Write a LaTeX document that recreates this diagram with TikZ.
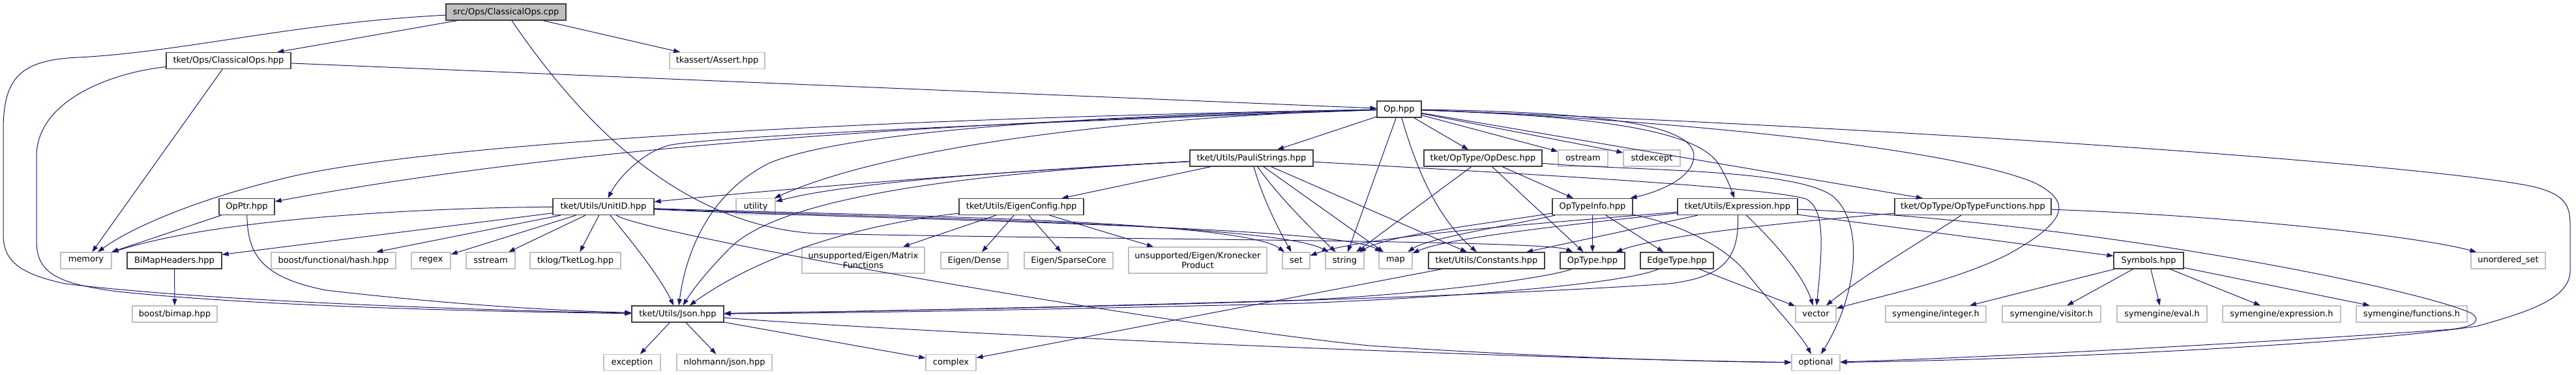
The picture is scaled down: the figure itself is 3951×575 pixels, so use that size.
\documentclass[tikz,border=0pt]{standalone}
\usepackage{fontspec}
\setmainfont{DejaVu Sans}
\usetikzlibrary{arrows.meta}
\definecolor{edgeblue}{HTML}{191970}
\definecolor{boxborder}{HTML}{404040}
\definecolor{extborder}{HTML}{BFBFBF}
\definecolor{rootfill}{HTML}{BFBFBF}
\tikzset{
  base/.style={rectangle, inner sep=0pt, minimum height=25pt, font=\fontsize{13}{15.6}\selectfont, align=center, fill=white},
  box/.style={base, draw=boxborder, line width=1.2pt},
  ext/.style={base, draw=extborder, line width=1.2pt},
  root/.style={base, draw=boxborder, fill=rootfill, line width=1.2pt},
  W/.style={minimum width=#1pt},
  edge/.style={draw=edgeblue, line width=1pt, -{Triangle[length=10pt,width=7pt]}}
}
\begin{document}
\begin{tikzpicture}[x=1pt,y=-1pt]
\useasboundingbox (0,0) rectangle (3951,575);
% row 0
\node[root,W=184] (cpp) at (776,18.5) {src/Ops/ClassicalOps.cpp};
% row 1
\node[box,W=191] (cls) at (350.5,93) {tket/Ops/ClassicalOps.hpp};
\node[ext,W=146] (assert) at (1100,93) {tkassert/Assert.hpp};
% row 2
\node[box,W=68] (op) at (2146,167.5) {Op.hpp};
% row 3
\node[box,W=189] (pauli) at (1919.5,242.5) {tket/Utils/PauliStrings.hpp};
\node[box,W=181] (opdesc) at (2274.5,242.5) {tket/OpType/OpDesc.hpp};
\node[ext,W=76] (ostream) at (2428,242.5) {ostream};
\node[ext,W=87] (stdexcept) at (2533.5,242.5) {stdexcept};
% row 4
\node[box,W=85] (opptr) at (378.5,317) {OpPtr.hpp};
\node[box,W=155] (unitid) at (925.5,317) {tket/Utils/UnitID.hpp};
\node[ext,W=60] (utility) at (1159,317) {utility};
\node[box,W=191] (eigen) at (1566.5,317) {tket/Utils/EigenConfig.hpp};
\node[box,W=123] (optypeinfo) at (2442.5,317) {OpTypeInfo.hpp};
\node[box,W=184] (expression) at (2665,317) {tket/Utils/Expression.hpp};
\node[box,W=240] (optypefun) at (3026,317) {tket/OpType/OpTypeFunctions.hpp};
% row 5
\node[ext,W=78] (memory) at (132,399.5) {memory};
\node[box,W=145] (bimaph) at (267.5,399.5) {BiMapHeaders.hpp};
\node[ext,W=191] (hash) at (511.5,399.5) {boost/functional/hash.hpp};
\node[ext,W=60] (regex) at (661,399.5) {regex};
\node[ext,W=75] (sstream) at (752.5,399.5) {sstream};
\node[ext,W=139] (tklog) at (882.5,399.5) {tklog/TketLog.hpp};
\node[ext,W=188,minimum height=40pt] (matfun) at (1324,399) {unsupported/Eigen/Matrix\\Functions};
\node[ext,W=103] (dense) at (1494.5,399.5) {Eigen/Dense};
\node[ext,W=136] (sparse) at (1639,399.5) {Eigen/SparseCore};
\node[ext,W=212,minimum height=40pt] (kron) at (1837,399) {unsupported/Eigen/Kronecker\\Product};
\node[ext,W=42] (set) at (1988,399.5) {set};
\node[ext,W=59] (string) at (2062.5,399.5) {string};
\node[ext,W=51] (map) at (2140.5,399.5) {map};
\node[box,W=178] (constants) at (2280,399.5) {tket/Utils/Constants.hpp};
\node[box,W=99] (optype) at (2442.5,399.5) {OpType.hpp};
\node[box,W=112] (edgetype) at (2572,399.5) {EdgeType.hpp};
\node[box,W=107] (symbols) at (3295.5,399.5) {Symbols.hpp};
\node[ext,W=114] (uset) at (3847,399.5) {unordered\_set};
% row 6
\node[ext,W=130] (bimap) at (268,481.5) {boost/bimap.hpp};
\node[box,W=141] (json) at (1039.5,481.5) {tket/Utils/Json.hpp};
\node[ext,W=62] (vector) at (2785,481.5) {vector};
\node[ext,W=154] (integer) at (2969,481.5) {symengine/integer.h};
\node[ext,W=151] (visitor) at (3146.5,481.5) {symengine/visitor.h};
\node[ext,W=138] (eval) at (3316,481.5) {symengine/eval.h};
\node[ext,W=181] (sexpr) at (3499.5,481.5) {symengine/expression.h};
\node[ext,W=170] (functions) at (3699,481.5) {symengine/functions.h};
% row 7
\node[ext,W=87] (exception) at (969.5,556) {exception};
\node[ext,W=146] (nlohmann) at (1111,556) {nlohmann/json.hpp};
\node[ext,W=77] (complex) at (1458.5,556) {complex};
\node[ext,W=74] (optional) at (2785,556) {optional};

% ---- edges: cpp
\draw[edge] (cpp) -- (cls);
\draw[edge] (cpp) -- (assert);
\draw[edge] (cpp) .. controls (900,200) and (1050,345) .. (1250,358) .. controls (1700,368) and (2370,368) .. (optype);
\draw[edge] (cpp) .. controls (450,35) and (280,80) .. (120,88) .. controls (30,92) and (5,120) .. (5,200) -- (5,360) .. controls (5,400) and (30,420) .. (100,435) .. controls (300,460) and (700,475) .. (json);
% cls
\draw[edge] (cls) -- (op);
\draw[edge] (cls) -- (memory);
\draw[edge] (cls) .. controls (180,110) and (56,150) .. (56,240) -- (56,370) .. controls (56,420) and (90,435) .. (180,447) .. controls (400,470) and (750,478) .. (json);
% op
\draw[edge] (op) .. controls (1400,180) and (700,215) .. (450,270) .. controls (300,305) and (200,350) .. (memory);
\draw[edge] (op) .. controls (1500,185) and (900,220) .. (opptr);
\draw[edge] (op) .. controls (1500,190) and (1100,210) .. (1030,222) .. controls (990,230) and (950,270) .. (unitid);
\draw[edge] (op) .. controls (1700,175) and (1300,200) .. (1180,250) .. controls (1080,300) and (1050,400) .. (json);
\draw[edge] (op) .. controls (1700,180) and (1350,230) .. (utility);
\draw[edge] (op) -- (pauli);
\draw[edge] (op) -- (string);
\draw[edge] (op) .. controls (2170,250) and (2200,330) .. (constants);
\draw[edge] (op) -- (opdesc);
\draw[edge] (op) -- (ostream);
\draw[edge] (op) -- (stdexcept);
\draw[edge] (op) .. controls (2450,172) and (2600,190) .. (2598,240) .. controls (2596,275) and (2540,295) .. (optypeinfo);
\draw[edge] (op) .. controls (2450,178) and (2600,200) .. (2635,250) .. controls (2650,275) and (2655,290) .. (expression);
\draw[edge] (op) -- (optypefun);
\draw[edge] (op) .. controls (2600,185) and (3000,230) .. (3120,280) .. controls (3180,310) and (3170,340) .. (3080,390) .. controls (3000,430) and (2900,450) .. (vector);
\draw[edge] (op) .. controls (2900,195) and (3700,250) .. (3880,285) .. controls (3935,297) and (3942,315) .. (3942,345) -- (3942,415) .. controls (3942,460) and (3870,480) .. (3800,500) .. controls (3600,530) and (3100,552) .. (optional);
% pauli
\draw[edge] (pauli) .. controls (1500,265) and (1200,290) .. (unitid);
\draw[edge] (pauli) .. controls (1550,262) and (1300,280) .. (utility);
\draw[edge] (pauli) .. controls (1500,265) and (1200,300) .. (1120,380) .. controls (1090,410) and (1065,440) .. (json);
\draw[edge] (pauli) -- (eigen);
\draw[edge] (pauli) .. controls (1935,300) and (1960,350) .. (set);
\draw[edge] (pauli) .. controls (1960,300) and (2010,350) .. (string);
\draw[edge] (pauli) -- (map);
\draw[edge] (pauli) -- (constants);
\draw[edge] (pauli) .. controls (2300,265) and (2700,285) .. (2770,305) .. controls (2800,320) and (2795,380) .. (vector);
% eigen
\draw[edge] (eigen) -- (matfun);
\draw[edge] (eigen) -- (dense);
\draw[edge] (eigen) -- (sparse);
\draw[edge] (eigen) -- (kron);
\draw[edge] (eigen) .. controls (1350,340) and (1180,380) .. (json);
% unitid
\draw[edge] (unitid) .. controls (700,318) and (350,330) .. (memory);
\draw[edge] (unitid) -- (bimaph);
\draw[edge] (unitid) -- (hash);
\draw[edge] (unitid) -- (regex);
\draw[edge] (unitid) -- (sstream);
\draw[edge] (unitid) -- (tklog);
\draw[edge] (unitid) .. controls (960,360) and (1010,420) .. (json);
\draw[edge] (unitid) .. controls (1300,330) and (1900,335) .. (set);
\draw[edge] (unitid) .. controls (1300,333) and (1950,340) .. (string);
\draw[edge] (unitid) .. controls (1300,336) and (2050,345) .. (map);
\draw[edge] (unitid) .. controls (990,360) and (1800,500) .. (2100,530) .. controls (2400,550) and (2650,555) .. (optional);
% opptr
\draw[edge] (opptr) -- (memory);
\draw[edge] (opptr) .. controls (380,390) and (400,425) .. (500,445) .. controls (700,468) and (850,476) .. (json);
% bimap headers
\draw[edge] (bimaph) -- (bimap);
% constants
\draw[edge] (constants) -- (complex);
% optypeinfo
\draw[edge] (optypeinfo) -- (optype);
\draw[edge] (optypeinfo) -- (edgetype);
\draw[edge] (optypeinfo) .. controls (2300,340) and (2130,360) .. (string);
\draw[edge] (optypeinfo) .. controls (2320,345) and (2190,365) .. (map);
\draw[edge] (optypeinfo) .. controls (2560,340) and (2640,370) .. (2680,420) .. controls (2720,470) and (2760,510) .. (optional);
% expression
\draw[edge] (expression) .. controls (2400,340) and (2100,360) .. (set);
\draw[edge] (expression) .. controls (2400,345) and (2220,365) .. (map);
\draw[edge] (expression) -- (constants);
\draw[edge] (expression) .. controls (2668,400) and (2640,425) .. (2560,435) .. controls (2200,460) and (1500,475) .. (json);
\draw[edge] (expression) .. controls (2720,370) and (2765,420) .. (vector);
\draw[edge] (expression) -- (symbols);
\draw[edge] (expression) .. controls (3200,340) and (3700,440) .. (3790,480) .. controls (3805,490) and (3800,500) .. (3760,505) .. controls (3400,530) and (3000,550) .. (optional);
% optypefun
\draw[edge] (optypefun) .. controls (2750,340) and (2550,360) .. (optype);
\draw[edge] (optypefun) .. controls (2980,350) and (2860,420) .. (vector);
\draw[edge] (optypefun) .. controls (3400,330) and (3700,360) .. (uset);
% opdesc
\draw[edge] (opdesc) -- (string);
\draw[edge] (opdesc) -- (optype);
\draw[edge] (opdesc) -- (optypeinfo);
\draw[edge] (opdesc) .. controls (2500,262) and (2750,258) .. (2810,300) .. controls (2860,340) and (2850,450) .. (optional);
% optype, edgetype
\draw[edge] (optype) .. controls (2380,425) and (2200,450) .. (2000,460) .. controls (1600,472) and (1300,478) .. (json);
\draw[edge] (edgetype) .. controls (2510,428) and (2350,450) .. (2000,465) .. controls (1600,475) and (1300,480) .. (json);
\draw[edge] (edgetype) -- (vector);
% json
\draw[edge] (json) -- (exception);
\draw[edge] (json) -- (nlohmann);
\draw[edge] (json) -- (complex);
\draw[edge] (json) .. controls (1400,510) and (2300,550) .. (optional);
% symbols
\draw[edge] (symbols) -- (integer);
\draw[edge] (symbols) -- (visitor);
\draw[edge] (symbols) -- (eval);
\draw[edge] (symbols) -- (sexpr);
\draw[edge] (symbols) -- (functions);
\end{tikzpicture}
\end{document}
